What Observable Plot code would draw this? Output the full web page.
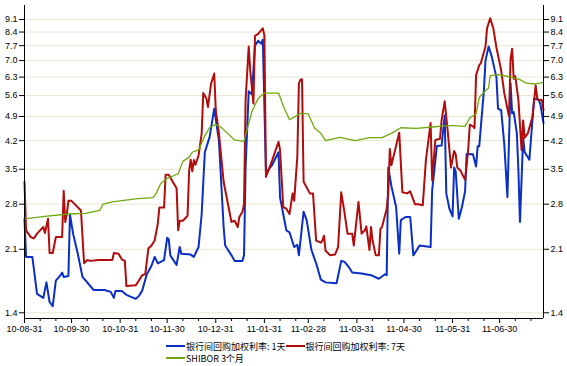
<!DOCTYPE html>
<html><head><meta charset="utf-8">
<script src="https://cdn.jsdelivr.net/npm/d3@7"></script>
<script src="https://cdn.jsdelivr.net/npm/@observablehq/plot@0.6"></script>
<style>
body{margin:0;background:#fff;}
#wrap{position:relative;width:567px;height:366px;background:#fff;}
#legend{position:absolute;left:166px;top:340px;font:9px "Noto Sans CJK SC",sans-serif;color:#000;}
.row{display:flex;align-items:center;height:12px;white-space:nowrap;}
.sw{display:inline-block;width:19px;height:0;border-top:2px solid;margin-right:1px;}
</style></head><body><div id="wrap"></div>
<script>
// ---- data (date yy-mm-dd, value %) ----
const seriesNames = ["银行间回购加权利率: 1天", "银行间回购加权利率: 7天", "SHIBOR 3个月"];
const seriesColors = ["#0a2fc4", "#b00d0d", "#6fa90e"];

const repo1d = [
["10-08-31",2.55],["10-09-01",2.00],["10-09-05",2.00],["10-09-08",1.58],["10-09-12",1.54],["10-09-14",1.70],
["10-09-16",1.50],["10-09-18",1.46],["10-09-20",1.72],["10-09-23",1.78],["10-09-24",1.81],["10-09-25",1.76],
["10-09-28",1.77],["10-09-29",2.62],["10-10-01",2.32],["10-10-04",2.04],["10-10-07",1.76],["10-10-11",1.68],
["10-10-14",1.62],["10-10-21",1.62],["10-10-25",1.60],["10-10-27",1.54],["10-10-28",1.61],["10-11-01",1.61],
["10-11-04",1.57],["10-11-10",1.53],["10-11-12",1.56],["10-11-14",1.61],["10-11-17",1.79],["10-11-20",1.89],
["10-11-22",2.00],["10-11-24",1.92],["10-11-28",1.96],["10-11-30",2.26],["10-12-01",2.24],["10-12-02",2.02],
["10-12-06",1.90],["10-12-08",2.13],["10-12-09",2.04],["10-12-15",2.03],["10-12-17",2.00],["10-12-20",2.13],
["10-12-22",2.63],["10-12-24",3.90],["10-12-27",4.29],["10-12-30",5.15],["11-01-02",4.20],["11-01-05",2.42],
["11-01-06",2.15],["11-01-10",2.02],["11-01-12",1.95],["11-01-17",1.95],["11-01-18",2.02],["11-01-19",3.54],
["11-01-21",5.76],["11-01-23",5.65],["11-01-25",7.70],["11-01-27",7.94],["11-01-29",7.80],["11-01-30",8.00],
["11-02-01",3.42],["11-02-05",3.60],["11-02-09",3.90],["11-02-10",2.92],["11-02-12",2.63],["11-02-14",2.37],
["11-02-16",2.34],["11-02-19",2.13],["11-02-21",2.16],["11-02-22",2.02],["11-02-25",2.67],["11-02-27",2.52],
["11-03-02",2.09],["11-03-05",1.92],["11-03-08",1.73],["11-03-11",1.70],["11-03-18",1.69],["11-03-21",1.95],
["11-03-23",1.94],["11-03-26",1.87],["11-03-28",1.81],["11-04-03",1.80],["11-04-09",1.78],["11-04-14",1.74],
["11-04-18",1.79],["11-04-19",1.78],["11-04-20",3.54],["11-04-22",3.14],["11-04-25",2.75],["11-04-27",2.04],
["11-04-28",2.53],["11-05-01",2.58],["11-05-04",2.58],["11-05-06",2.02],["11-05-10",2.15],["11-05-17",2.13],
["11-05-18",3.06],["11-05-21",4.06],["11-05-24",4.07],["11-05-26",4.93],["11-05-27",3.00],["11-05-29",2.72],
["11-05-31",2.59],["11-06-01",3.54],["11-06-02",3.45],["11-06-04",2.55],["11-06-06",2.75],["11-06-08",3.04],
["11-06-09",3.86],["11-06-13",3.85],["11-06-15",3.56],["11-06-16",4.05],["11-06-17",4.05],["11-06-20",5.80],
["11-06-21",7.00],["11-06-23",7.66],["11-06-25",7.18],["11-06-28",6.28],["11-06-29",5.15],["11-07-01",5.10],
["11-07-03",4.10],["11-07-05",2.93],["11-07-07",6.05],["11-07-08",5.00],["11-07-09",5.04],["11-07-11",4.40],
["11-07-12",3.47],["11-07-13",2.50],["11-07-15",4.28],["11-07-16",3.90],["11-07-19",3.72],["11-07-22",5.50],
["11-07-25",5.44],["11-07-26",5.30],["11-07-28",4.70]
];

const repo7d = [
["10-08-31",3.23],["10-09-01",2.37],["10-09-04",2.27],["10-09-06",2.25],["10-09-08",2.32],["10-09-12",2.42],
["10-09-13",2.33],["10-09-15",2.55],["10-09-16",2.05],["10-09-18",2.05],["10-09-20",2.27],["10-09-24",2.27],
["10-09-25",3.05],["10-09-26",2.50],["10-09-27",2.63],["10-09-28",2.86],["10-09-30",2.86],["10-10-06",2.69],
["10-10-08",1.92],["10-10-10",1.96],["10-10-12",1.95],["10-10-17",1.96],["10-10-26",1.96],["10-10-27",2.05],
["10-10-30",2.04],["10-11-01",1.97],["10-11-03",1.95],["10-11-04",1.66],["10-11-10",1.67],["10-11-12",1.72],
["10-11-14",1.78],["10-11-16",1.79],["10-11-18",2.11],["10-11-20",2.15],["10-11-22",2.22],["10-11-24",2.47],
["10-11-25",2.74],["10-11-28",2.74],["10-11-29",3.38],["10-12-01",3.38],["10-12-03",3.26],["10-12-06",3.10],
["10-12-07",2.37],["10-12-08",2.52],["10-12-10",2.52],["10-12-13",2.60],["10-12-14",3.47],["10-12-15",3.72],
["10-12-16",3.45],["10-12-17",3.71],["10-12-18",3.60],["10-12-20",3.82],["10-12-22",4.40],["10-12-23",5.69],
["10-12-25",5.50],["10-12-26",5.20],["10-12-28",6.05],["10-12-30",6.45],["10-12-31",5.10],["11-01-02",4.40],
["11-01-05",3.23],["11-01-10",2.50],["11-01-12",2.52],["11-01-14",2.42],["11-01-15",2.58],["11-01-17",2.67],
["11-01-18",2.80],["11-01-19",5.44],["11-01-21",7.66],["11-01-22",6.54],["11-01-24",5.32],["11-01-25",8.20],
["11-01-27",8.30],["11-01-29",8.50],["11-01-30",8.60],["11-01-31",8.20],["11-02-01",3.33],["11-02-05",3.71],
["11-02-09",4.17],["11-02-10",3.95],["11-02-12",2.75],["11-02-14",2.72],["11-02-16",2.63],["11-02-18",3.00],
["11-02-19",2.86],["11-02-21",3.80],["11-02-22",6.05],["11-02-23",6.20],["11-02-24",6.20],["11-02-25",3.23],
["11-03-01",3.00],["11-03-03",3.00],["11-03-05",2.22],["11-03-08",2.19],["11-03-09",2.22],["11-03-10",2.29],
["11-03-11",2.08],["11-03-14",2.02],["11-03-17",2.03],["11-03-19",2.13],["11-03-21",3.02],["11-03-23",2.67],
["11-03-25",2.32],["11-03-28",2.32],["11-03-29",2.15],["11-04-01",2.84],["11-04-03",2.32],["11-04-05",2.37],
["11-04-06",2.43],["11-04-08",2.09],["11-04-09",2.42],["11-04-10",2.22],["11-04-12",2.02],["11-04-14",2.02],
["11-04-15",2.39],["11-04-16",2.42],["11-04-19",2.72],["11-04-20",3.00],["11-04-21",3.98],["11-04-22",3.59],
["11-04-24",3.90],["11-04-27",4.42],["11-04-29",3.02],["11-05-02",3.00],["11-05-04",3.04],["11-05-07",2.80],
["11-05-09",2.80],["11-05-12",2.78],["11-05-14",3.71],["11-05-17",4.70],["11-05-18",3.26],["11-05-20",4.22],
["11-05-23",4.25],["11-05-24",4.78],["11-05-26",5.40],["11-05-28",4.42],["11-05-30",3.54],["11-06-01",3.93],
["11-06-02",3.85],["11-06-03",3.54],["11-06-05",3.47],["11-06-08",3.27],["11-06-10",3.98],["11-06-11",4.65],
["11-06-13",4.60],["11-06-14",4.55],["11-06-15",6.37],["11-06-17",6.80],["11-06-18",6.88],["11-06-21",7.66],
["11-06-22",8.60],["11-06-24",9.17],["11-06-26",8.60],["11-06-28",7.60],["11-07-01",6.58],["11-07-03",5.69],
["11-07-05",5.15],["11-07-06",4.91],["11-07-07",7.05],["11-07-08",7.55],["11-07-09",6.23],["11-07-10",6.33],
["11-07-12",5.45],["11-07-14",3.95],["11-07-15",4.78],["11-07-16",4.28],["11-07-18",4.40],["11-07-21",4.90],
["11-07-23",5.98],["11-07-24",5.50],["11-07-25",5.44],["11-07-27",5.44],["11-07-28",5.10]
];

const shibor3m = [
["10-08-31",2.55],["10-09-13",2.59],["10-09-28",2.63],["10-10-09",2.64],["10-10-18",2.69],["10-10-20",2.80],
["10-10-26",2.84],["10-11-05",2.88],["10-11-11",2.90],["10-11-21",2.92],["10-11-23",3.00],["10-11-26",3.20],
["10-11-30",3.30],["10-12-07",3.40],["10-12-10",3.68],["10-12-14",3.78],["10-12-16",3.90],["10-12-20",3.96],
["10-12-24",4.33],["10-12-27",4.56],["10-12-31",4.65],["11-01-03",4.59],["11-01-07",4.42],["11-01-12",4.22],
["11-01-18",4.18],["11-01-19",4.35],["11-01-23",5.05],["11-01-27",5.50],["11-01-31",5.69],["11-02-09",5.69],
["11-02-12",5.25],["11-02-16",4.80],["11-02-23",5.00],["11-02-28",4.98],["11-03-04",4.55],["11-03-08",4.40],
["11-03-11",4.20],["11-03-20",4.29],["11-03-30",4.20],["11-04-08",4.28],["11-04-16",4.28],["11-04-22",4.40],
["11-04-28",4.56],["11-05-08",4.54],["11-05-20",4.59],["11-05-27",4.62],["11-05-31",4.62],["11-06-08",4.60],
["11-06-11",4.86],["11-06-15",4.98],["11-06-17",5.53],["11-06-20",5.72],["11-06-23",5.88],["11-06-24",6.36],
["11-06-29",6.40],["11-07-07",6.31],["11-07-13",6.20],["11-07-17",6.06],["11-07-23",6.03],["11-07-28",6.09]
];

const yTicks = [1.4, 2.1, 2.8, 3.5, 4.2, 4.9, 5.6, 6.3, 7.0, 7.7, 8.4, 9.1];
const xTickLabels = ["10-08-31","10-09-30","10-10-31","10-11-30","10-12-31","11-01-31","11-02-28","11-03-31","11-04-30","11-05-31","11-06-30"];
const xRange = ["10-08-31", "11-07-28"];
const yDomain = [1.35, 9.95];

// ---- build ----
const parse = d3.utcParse("%y-%m-%d");
const fmt = d3.utcFormat("%y-%m-%d");
const toRows = (arr) => arr.map(([d, v]) => ({date: parse(d), value: v}));
const xStart = parse(xRange[0]), xEnd = parse(xRange[1]);
const majorTicks = xTickLabels.map(parse);
const minorTicks = d3.utcMonth.range(parse("10-09-01"), parse("11-08-01"))
  .flatMap(m => [d3.utcDay.offset(m, 9), d3.utcDay.offset(m, 19)])
  .filter(d => d <= xEnd);

const chart = Plot.plot({
  width: 567, height: 336,
  marginLeft: 24, marginRight: 24, marginTop: 5, marginBottom: 18,
  style: {fontFamily: "'Liberation Sans', Arial, sans-serif", fontSize: "9px", color: "#000", background: "#fff", overflow: "visible"},
  x: {type: "utc", domain: [xStart, xEnd]},
  y: {type: "log", domain: yDomain},
  marks: [
    Plot.gridY(yTicks, {stroke: "#ebe5d0", strokeOpacity: 1}),
    Plot.line(toRows(repo1d), {x: "date", y: "value", stroke: seriesColors[0], strokeWidth: 2}),
    Plot.line(toRows(repo7d), {x: "date", y: "value", stroke: seriesColors[1], strokeWidth: 2}),
    Plot.line(toRows(shibor3m), {x: "date", y: "value", stroke: seriesColors[2], strokeWidth: 1.3}),
    Plot.ruleX([xStart, xEnd], {stroke: "#000", strokeWidth: 1}),
    Plot.ruleY([yDomain[0]], {stroke: "#000", strokeWidth: 1}),
    Plot.axisY(yTicks, {anchor: "left", tickSize: 5, tickPadding: 2, tickFormat: d => d.toFixed(1), label: null}),
    Plot.axisY(yTicks, {anchor: "right", tickSize: 5, tickPadding: 2, tickFormat: d => d.toFixed(1), label: null}),
    Plot.axisX(majorTicks, {tickSize: 5, tickPadding: 2, tickFormat: fmt, label: null}),
    Plot.axisX(minorTicks, {tickSize: 3, text: null, label: null})
  ]
});

const wrap = document.getElementById("wrap");
wrap.appendChild(chart);

// legend below the svg
const legend = document.createElement("div");
legend.id = "legend";
const rowsSpec = [[0, 1], [2]];
for (const r of rowsSpec) {
  const row = document.createElement("div");
  row.className = "row";
  for (const i of r) {
    const sw = document.createElement("span");
    sw.className = "sw";
    sw.style.borderTopColor = seriesColors[i];
    const tx = document.createElement("span");
    tx.textContent = seriesNames[i];
    row.appendChild(sw);
    row.appendChild(tx);
  }
  legend.appendChild(row);
}
wrap.appendChild(legend);
</script></body></html>
